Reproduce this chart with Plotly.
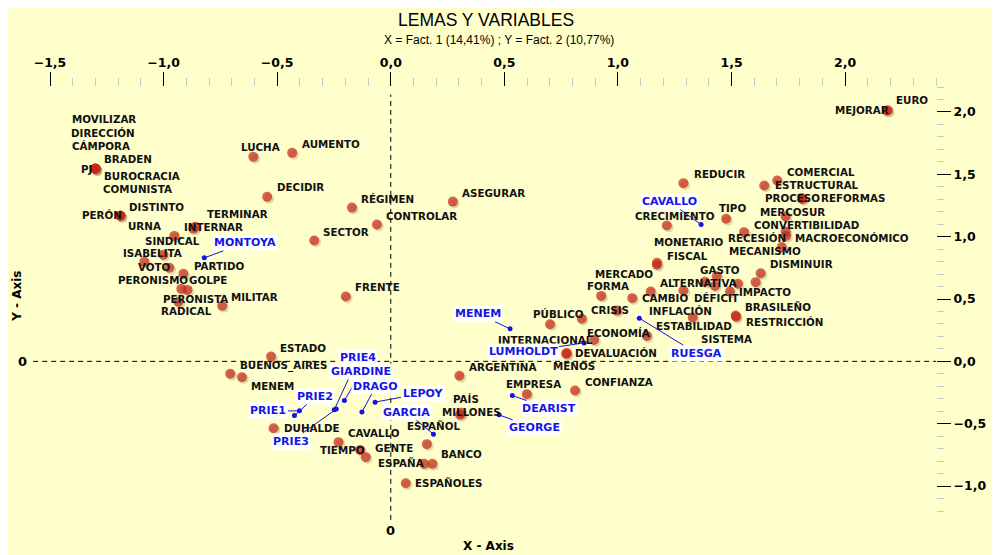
import plotly.graph_objects as go

# ---------------- DATA ----------------
# Lemas (black labels): coordinates on Fact.1 (x) and Fact.2 (y)
lema_names = [
    "MOVILIZAR", "DIRECCIÓN", "CÁMPORA", "BRADEN", "PJ", "BUROCRACIA", "COMUNISTA",
    "PERÓN", "DISTINTO", "URNA", "LUCHA", "AUMENTO", "DECIDIR", "RÉGIMEN",
    "CONTROLAR", "ASEGURAR", "SECTOR", "FRENTE", "TERMINAR", "INTERNAR",
    "SINDICAL", "ISABELITA", "VOTO", "PARTIDO", "GOLPE", "PERONISMO",
    "PERONISTA", "RADICAL", "MILITAR", "REDUCIR", "COMERCIAL", "ESTRUCTURAL",
    "PROCESO", "REFORMAS", "MERCOSUR", "CONVERTIBILIDAD", "MACROECONÓMICO",
    "RECESIÓN", "MECANISMO", "DISMINUIR", "IMPACTO", "BRASILEÑO", "RESTRICCIÓN",
    "TIPO", "CRECIMIENTO", "MONETARIO", "FISCAL", "GASTO", "ALTERNATIVA",
    "DÉFICIT", "INFLACIÓN", "ESTABILIDAD", "SISTEMA", "MERCADO", "CAMBIO",
    "FORMA", "CRISIS", "PÚBLICO", "ECONOMÍA", "INTERNACIONAL", "DEVALUACIÓN",
    "MENOS", "ARGENTINA", "EMPRESA", "CONFIANZA", "PAÍS", "MILLONES", "ESPAÑOL",
    "BANCO", "ESPAÑA", "ESPAÑOLES", "GENTE", "CAVALLO", "TIEMPO", "DUHALDE",
    "ESTADO", "BUENOS_AIRES", "MENEM", "EURO", "MEJORAR",
]
lema_x = [
    -1.30, -1.30, -1.30, -1.30, -1.30, -1.30, -1.30,
    -1.19, -1.19, -1.19, -0.605, -0.434, -0.544, -0.171,
    -0.061, 0.273, -0.337, -0.198, -0.861, -0.869,
    -0.953, -1.001, -1.085, -0.975, -0.913, -0.922,
    -0.895, -0.935, -0.742, 1.288, 1.701, 1.644,
    1.809, 1.812, 1.738, 1.738, 1.740,
    1.555, 1.721, 1.628, 1.606, 1.518, 1.520,
    1.476, 1.215, 1.172, 1.171, 1.435, 1.383,
    1.493, 1.288, 1.329, 1.528, 1.144, 1.063,
    0.926, 0.995, 0.701, 1.127, 0.895, 0.775,
    0.772, 0.302, 0.599, 0.811, 0.310, 0.305, 0.159,
    0.183, 0.147, 0.066, -0.110, -0.135, -0.230, -0.516,
    -0.527, -0.707, -0.655, 2.188, 2.184,
]
lema_y = [
    1.544, 1.544, 1.544, 1.544, 1.544, 1.544, 1.544,
    1.167, 1.167, 1.167, 1.640, 1.672, 1.319, 1.233,
    1.097, 1.281, 0.969, 0.520, 1.079, 1.063,
    1.006, 0.854, 0.798, 0.750, 0.702, 0.581,
    0.573, 0.477, 0.445, 1.429, 1.450, 1.410,
    1.309, 1.302, 1.161, 1.041, 1.006,
    1.036, 0.916, 0.707, 0.635, 0.367, 0.357,
    1.143, 1.089, 0.790, 0.774, 0.683, 0.638,
    0.560, 0.568, 0.351, 0.622, 0.560, 0.507,
    0.525, 0.407, 0.298, 0.204, 0.172, 0.066,
    0.060, -0.116, -0.263, -0.234, -0.413, -0.429, -0.664,
    -0.822, -0.822, -0.977, -0.768, -0.710, -0.648, -0.536,
    0.038, -0.100, -0.127, 2.013, 2.009,
]

# Unlabelled lema points
extra_x = [1.427, 0.841]
extra_y = [0.605, 0.341]

# Speakers (blue labels)
speaker_names = ["MONTOYA", "CAVALLO", "MENEM", "LUMHOLDT", "RUESGA", "DEARIST",
                 "GEORGE", "PRIE4", "GIARDINE", "DRAGO", "LEPOY", "GARCIA",
                 "PRIE2", "PRIE1", "PRIE3"]
speaker_x = [-0.821, 1.366, 0.525, 0.851, 1.094, 0.535,
             0.477, -0.249, -0.204, -0.127, -0.069, 0.188,
             -0.424, -0.402, -0.240]
speaker_y = [0.830, 1.097, 0.261, 0.148, 0.346, -0.274,
             -0.429, -0.389, -0.314, -0.407, -0.327, -0.584,
             -0.435, -0.397, -0.383]

x_ticks = [-1.5, -1.0, -0.5, 0.0, 0.5, 1.0, 1.5, 2.0]
y_ticks = [-1.0, -0.5, 0.0, 0.5, 1.0, 1.5, 2.0]

title_text = "LEMAS Y VARIABLES"
subtitle_text = "X = Fact. 1 (14,41%) ; Y = Fact. 2 (10,77%)"

# ---------------- LABEL PLACEMENT (pixels) ----------------
# (dx to label's left edge, dy to label's middle; screen y grows downward)
LEMA_OFFSET = [
    (-25, -50), (-26, -36), (-25, -23), (7, -10), (-16, 0), (7, 7), (6, 20),
    (-40, -1), (7, -9), (6, 10), (-14, -10), (8, -9), (8, -10), (7, -9),
    (7, -9), (7, -9), (7, -9), (7, -10), (10, -13), (-11, -2),
    (-31, 5), (-42, -2), (-8, 5), (23, -2), (4, 6), (-65, -9),
    (-26, 9), (-19, 9), (7, -9), (9, -9), (8, -9), (9, -1),
    (-39, 0), (17, -1), (-28, -5), (-34, -7), (7, 2),
    (-18, 6), (-55, 4), (7, -9), (-19, 10), (7, -9), (8, 5),
    (-9, -11), (-34, -10), (-5, -21), (8, -9), (-19, -6), (-47, 1),
    (-38, 6), (-36, 20), (-39, 8), (-39, 55), (-58, -18), (8, 0),
    (-16, -10), (-28, -1), (-19, -10), (-62, -3), (-98, 0), (6, 0),
    (-15, 12), (8, -9), (-23, -10), (8, -9), (-10, -14), (-20, -3), (-22, -18),
    (7, -10), (-48, -1), (7, 0), (7, -9), (-14, -17), (-21, 8), (8, 0),
    (7, -9), (8, -8), (7, 9), (6, -10), (-54, -1),
]
# (ax, ay) of the blue label centre relative to its point
SPEAKER_OFFSET = [(41, -15), (-32, -23), (-32, -15), (-61, 9), (57, 35), (37, 13),
                  (35, 13), (24, -52), (17, -29), (14, -26), (48, -9), (-27, -22),
                  (21, -19), (-31, 0), (-45, 32)]

# ---------------- FIGURE ----------------
BG = "#FFFFCC"
X_RANGE = [-1.5, 2.4]
Y_RANGE = [-1.2, 2.2]
W, H = 1000, 555
PAGE_OFFSET = 8  # default body margin of the html page
M_L, M_R, M_T, M_B = 50 - PAGE_OFFSET, 64 + PAGE_OFFSET, 87 - PAGE_OFFSET, 44 + PAGE_OFFSET
px_x = (X_RANGE[1] - X_RANGE[0]) / (W - M_L - M_R)
px_y = (Y_RANGE[1] - Y_RANGE[0]) / (H - M_T - M_B)

all_x = lema_x + extra_x
all_y = lema_y + extra_y

fig = go.Figure()
# soft shadow under each dot
fig.add_trace(go.Scatter(
    x=[v + 1.8 * px_x for v in all_x], y=[v - 1.8 * px_y for v in all_y],
    mode="markers", hoverinfo="skip", cliponaxis=False,
    marker=dict(size=10, color="rgba(175,168,120,0.42)", line=dict(width=0)),
))
fig.add_trace(go.Scatter(
    x=all_x, y=all_y, mode="markers", cliponaxis=False,
    marker=dict(size=10, color="rgba(200,42,25,0.72)", line=dict(width=0)),
))
fig.add_trace(go.Scatter(
    x=speaker_x, y=speaker_y, mode="markers", cliponaxis=False,
    marker=dict(size=5, color="#1414E6", line=dict(width=0)),
))

LBL_FONT = dict(family="DejaVu Sans", size=10.3, color="#111111", weight="bold")
annotations = []
for name, x, y, (dx, dy) in zip(lema_names, lema_x, lema_y, LEMA_OFFSET):
    annotations.append(dict(
        x=x, y=y, xref="x", yref="y", text=name, showarrow=False,
        xanchor="left", yanchor="middle", xshift=dx, yshift=-dy, font=LBL_FONT,
    ))
for name, x, y, (ax, ay) in zip(speaker_names, speaker_x, speaker_y, SPEAKER_OFFSET):
    annotations.append(dict(
        x=x, y=y, xref="x", yref="y", text=name, showarrow=True,
        ax=ax, ay=ay, axref="pixel", ayref="pixel", arrowhead=0, arrowwidth=1,
        arrowcolor="#1414E6", standoff=0, startstandoff=0,
        bgcolor="rgba(255,255,255,0.92)", borderpad=1,
        font=dict(family="DejaVu Sans", size=11, color="#1414E6", weight="bold"),
    ))

CENTER = dict(xanchor="center", yanchor="middle", showarrow=False)
annotations += [
    dict(x=0.492, y=1.158, xref="paper", yref="paper", text=title_text, **CENTER,
         font=dict(family="Liberation Sans", size=17.5, color="#000000")),
    dict(x=0.507, y=1.1108, xref="paper", yref="paper", text=subtitle_text, **CENTER,
         font=dict(family="Liberation Sans", size=12, color="#000000")),
    dict(x=0.495, y=-0.0825, xref="paper", yref="paper", text="X - Axis", **CENTER,
         font=dict(family="DejaVu Sans", size=12, color="#000000", weight="bold")),
    dict(x=-0.0375, y=0.507, xref="paper", yref="paper", text="Y - Axis", **CENTER,
         textangle=-90,
         font=dict(family="DejaVu Sans", size=12, color="#000000", weight="bold")),
    dict(x=-0.0316, y=0, xref="paper", yref="y", text="0", **CENTER,
         font=dict(family="DejaVu Sans", size=13, color="#000000", weight="bold")),
    dict(x=0, y=-0.045, xref="x", yref="paper", text="0", **CENTER,
         font=dict(family="DejaVu Sans", size=13, color="#000000", weight="bold")),
]

shapes = [
    dict(type="line", xref="paper", yref="y", x0=-0.019, x1=1, y0=0, y1=0,
         line=dict(color="#000000", width=1, dash="5px,4px"), layer="below"),
    dict(type="line", xref="x", yref="paper", x0=0, x1=0, y0=-0.021, y1=0.982,
         line=dict(color="#000000", width=1, dash="5px,4px"), layer="below"),
]

TICK_FONT = dict(family="DejaVu Sans", size=12.5, color="#000000", weight="bold")
fig.update_layout(
    width=W, height=H,
    margin=dict(l=M_L, r=M_R, t=M_T, b=M_B, autoexpand=False),
    paper_bgcolor=BG, plot_bgcolor=BG,
    showlegend=False,
    separators=",.",
    annotations=annotations,
    shapes=shapes,
    xaxis=dict(
        range=X_RANGE, side="top", tickvals=x_ticks, tickformat=".1f",
        showgrid=False, zeroline=False, showline=False,
        ticks="outside", ticklen=14, tickcolor="#000000", tickwidth=1,
        tickfont=TICK_FONT, automargin=False,
        minor=dict(dtick=0.1, ticks="outside", ticklen=8, tickcolor="#C8C8C8",
                   tickwidth=1, showgrid=False),
    ),
    yaxis=dict(
        range=Y_RANGE, side="right", tickvals=y_ticks, tickformat=".1f",
        showgrid=False, zeroline=False, showline=False,
        ticks="outside", ticklen=14, tickcolor="#000000", tickwidth=1,
        tickfont=TICK_FONT, automargin=False,
        minor=dict(dtick=0.1, ticks="outside", ticklen=7, tickcolor="#C8C8C8",
                   tickwidth=1, showgrid=False),
    ),
)

fig.write_html("out.html")
